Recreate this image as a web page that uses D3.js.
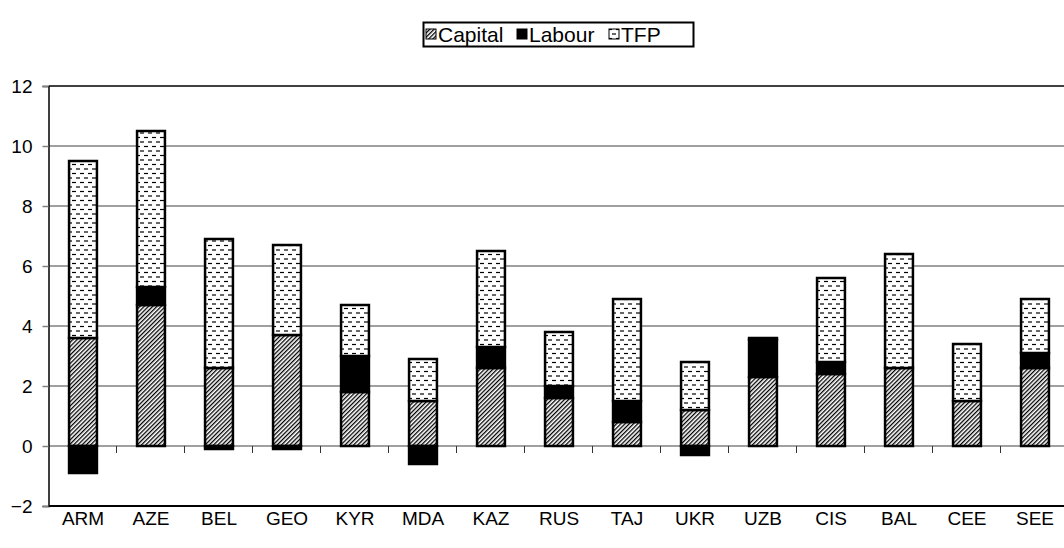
<!DOCTYPE html>
<html>
<head>
<meta charset="utf-8">
<script src="https://cdn.jsdelivr.net/npm/d3@7"></script>
<style>
  body { margin: 0; background: #fff; }
  svg { display: block; font-family: Arial, "Liberation Sans", sans-serif; }
</style>
</head>
<body>
<svg id="chart" width="1064" height="548"></svg>
<script>
const categories = ['ARM', 'AZE', 'BEL', 'GEO', 'KYR', 'MDA', 'KAZ', 'RUS', 'TAJ', 'UKR', 'UZB', 'CIS', 'BAL', 'CEE', 'SEE'];
const capital = [3.6, 4.7, 2.6, 3.7, 1.8, 1.5, 2.6, 1.6, 0.8, 1.2, 2.3, 2.4, 2.6, 1.5, 2.6];
const labour = [-0.9, 0.6, -0.1, -0.1, 1.2, -0.6, 0.7, 0.4, 0.7, -0.3, 1.25, 0.4, 0.0, 0.0, 0.5];
const tfp = [5.9, 5.2, 4.3, 3.0, 1.7, 1.4, 3.2, 1.8, 3.4, 1.6, 0.05, 2.8, 3.8, 1.9, 1.8];
const seriesNames = ['Capital', 'Labour', 'TFP'];
const yTicks = [-2, 0, 2, 4, 6, 8, 10, 12];

const margin = {top: 86, right: -5, bottom: 42, left: 49};
const width = 1064, height = 548;

const svg = d3.select('#chart');

// fill patterns
const defs = svg.append('defs');
const hatch = defs.append('pattern')
    .attr('id', 'pat-capital')
    .attr('patternUnits', 'userSpaceOnUse')
    .attr('width', 3).attr('height', 3)
    .attr('patternTransform', 'rotate(45)');
hatch.append('rect').attr('width', 3).attr('height', 3).attr('fill', '#fff');
hatch.append('line').attr('x1', 0).attr('y1', 0).attr('x2', 0).attr('y2', 3)
    .attr('stroke', '#000').attr('stroke-width', 2.6);

const dash = defs.append('pattern')
    .attr('id', 'pat-tfp')
    .attr('patternUnits', 'userSpaceOnUse')
    .attr('width', 8).attr('height', 9);
dash.append('rect').attr('width', 8).attr('height', 9).attr('fill', '#fff');
dash.append('line').attr('x1', 0).attr('x2', 4).attr('y1', 2.5).attr('y2', 2.5)
    .attr('stroke', '#000').attr('stroke-width', 1.2);
dash.append('line').attr('x1', 4).attr('x2', 8).attr('y1', 7).attr('y2', 7)
    .attr('stroke', '#000').attr('stroke-width', 1.2);

const fills = {Capital: 'url(#pat-capital)', Labour: '#000', TFP: 'url(#pat-tfp)'};

const rows = categories.map((c, i) => ({cat: c, Capital: capital[i], Labour: labour[i], TFP: tfp[i]}));

const x = d3.scaleBand()
    .domain(categories)
    .range([margin.left, width - margin.right])
    .paddingInner(0.59)
    .paddingOuter(0.295);

const y = d3.scaleLinear()
    .domain([-2, 12])
    .range([height - margin.bottom, margin.top]);

// gridlines
svg.append('g')
    .selectAll('line')
    .data(yTicks.filter(t => t > -2 && t < 12))
    .join('line')
    .attr('x1', margin.left).attr('x2', width)
    .attr('y1', d => y(d)).attr('y2', d => y(d))
    .attr('stroke', '#808080').attr('stroke-width', 1.5);

// category boundary ticks on zero line
const step = x.step();
svg.append('g')
    .selectAll('line')
    .data(categories.slice(1))
    .join('line')
    .attr('x1', d => x(d) - x.paddingInner() * step / 2 - 0.5)
    .attr('x2', d => x(d) - x.paddingInner() * step / 2 - 0.5)
    .attr('y1', y(0)).attr('y2', y(0) + 7)
    .attr('stroke', '#333').attr('stroke-width', 1);

// frame
svg.append('line')
    .attr('x1', margin.left).attr('x2', width)
    .attr('y1', y(12)).attr('y2', y(12))
    .attr('stroke', '#000').attr('stroke-width', 1.5);
svg.append('line')
    .attr('x1', margin.left).attr('x2', width)
    .attr('y1', y(-2)).attr('y2', y(-2))
    .attr('stroke', '#000').attr('stroke-width', 2);

// y axis
const yAxis = svg.append('g')
    .attr('transform', `translate(${margin.left - 0.5},0)`)
    .call(d3.axisLeft(y).tickValues(yTicks).tickSize(6).tickPadding(10));
yAxis.select('.domain').attr('stroke', '#000').attr('stroke-width', 1.5);
yAxis.selectAll('.tick line').attr('stroke', '#808080').attr('stroke-width', 1.5);
yAxis.selectAll('.tick text')
    .attr('font-size', 19)
    .attr('font-family', 'Arial, "Liberation Sans", sans-serif')
    .attr('fill', '#000');

// x labels
svg.append('g')
    .selectAll('text')
    .data(categories)
    .join('text')
    .attr('x', d => x(d) + x.bandwidth() / 2)
    .attr('y', 525)
    .attr('text-anchor', 'middle')
    .attr('font-size', 19)
    .text(d => d);

// stacked bars
const stack = d3.stack()
    .keys(seriesNames)
    .offset(d3.stackOffsetDiverging);
const series = stack(rows);

svg.append('g')
    .selectAll('g')
    .data(series)
    .join('g')
    .attr('fill', d => fills[d.key])
    .selectAll('rect')
    .data(d => d.map(v => ({v, key: d.key})))
    .join('rect')
    .filter(d => Math.abs(d.v[1] - d.v[0]) > 0)
    .attr('x', d => x(d.v.data.cat))
    .attr('width', x.bandwidth())
    .attr('y', d => y(Math.max(d.v[0], d.v[1])))
    .attr('height', d => Math.abs(y(d.v[0]) - y(d.v[1])))
    .attr('stroke', '#000')
    .attr('stroke-width', 2.5);

// legend
const legend = svg.append('g');
legend.append('rect')
    .attr('x', 423.5).attr('y', 22.5)
    .attr('width', 270).attr('height', 24)
    .attr('fill', '#fff').attr('stroke', '#000').attr('stroke-width', 2);
const legendX = [426, 517, 609];
seriesNames.forEach((name, i) => {
    legend.append('rect')
        .attr('x', legendX[i]).attr('y', 29)
        .attr('width', 10).attr('height', 10)
        .attr('fill', fills[name])
        .attr('stroke', '#000').attr('stroke-width', 1);
    legend.append('text')
        .attr('x', legendX[i] + 12).attr('y', 42)
        .attr('font-size', 21)
        .text(name);
});
</script>
</body>
</html>
